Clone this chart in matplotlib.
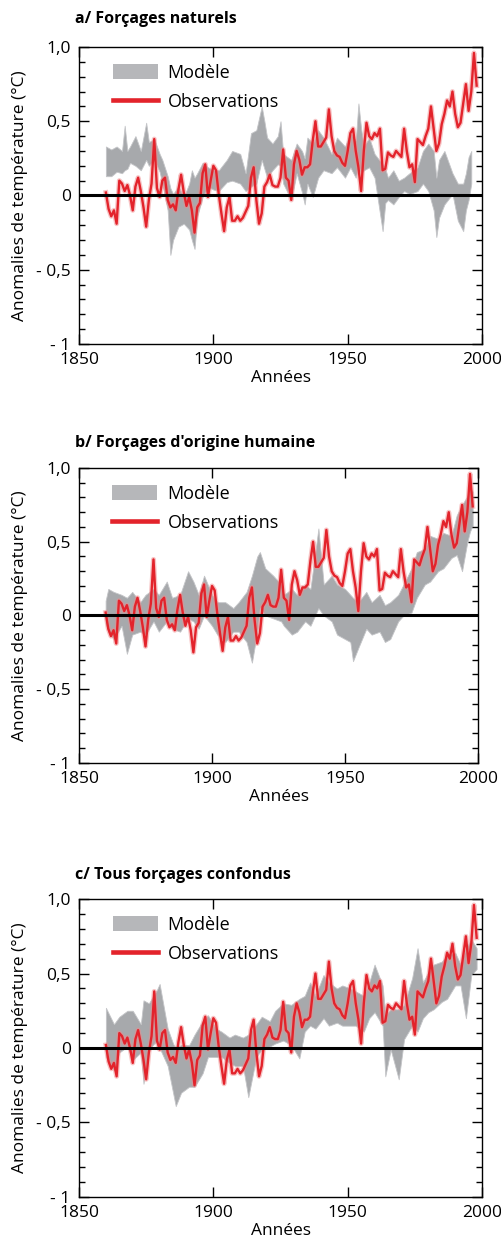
import numpy as np
import matplotlib.pyplot as plt
from matplotlib.patches import Patch
from matplotlib.lines import Line2D
from matplotlib.ticker import MultipleLocator

plt.rcParams['font.family'] = ['Open Sans', 'DejaVu Sans']

# observations (annual anomalies, °C), 1860-1998
obs_years = list(range(1860, 1999))
obs = [0.02, -0.09, -0.14, -0.10, -0.19, 0.10, 0.08, 0.03, 0.07, 0.00,
       -0.10, 0.06, 0.12, 0.03, -0.08, -0.21, -0.03, 0.08, 0.38, 0.05,
       -0.01, 0.10, 0.12, -0.03, -0.08, -0.06, -0.10, 0.04, 0.14, 0.02,
       -0.07, -0.01, -0.10, -0.25, -0.08, -0.05, 0.15, 0.21, -0.01, 0.10,
       0.20, 0.17, 0.01, -0.12, -0.24, -0.08, -0.01, -0.17, -0.17, -0.14,
       -0.17, -0.15, -0.11, -0.07, 0.12, 0.19, -0.03, -0.19, -0.12, 0.06,
       0.09, 0.14, 0.07, 0.06, 0.06, 0.12, 0.31, 0.12, 0.10, -0.03,
       0.21, 0.30, 0.24, 0.14, 0.19, 0.19, 0.21, 0.37, 0.50, 0.33,
       0.33, 0.36, 0.39, 0.58, 0.40, 0.30, 0.27, 0.26, 0.22, 0.20,
       0.30, 0.42, 0.45, 0.30, 0.19, 0.03, 0.30, 0.49, 0.40, 0.38,
       0.42, 0.40, 0.45, 0.17, 0.18, 0.29, 0.27, 0.26, 0.30, 0.28,
       0.26, 0.45, 0.30, 0.19, 0.21, 0.09, 0.38, 0.36, 0.34, 0.40,
       0.45, 0.60, 0.45, 0.30, 0.35, 0.48, 0.55, 0.64, 0.60, 0.70,
       0.55, 0.46, 0.49, 0.62, 0.75, 0.57, 0.70, 0.96, 0.74]

# a/ modele forcages naturels : enveloppe
yrs_a = [1860, 1862, 1864, 1866, 1867, 1868, 1869, 1871, 1873, 1875,
         1876, 1878, 1880, 1881, 1883, 1884, 1885, 1887, 1889, 1891,
         1892, 1893, 1894, 1896, 1898, 1900, 1902, 1905, 1907, 1910,
         1912, 1914, 1916, 1918, 1919, 1920, 1922, 1924, 1925, 1926,
         1929, 1931, 1933, 1934, 1935, 1937, 1939, 1941, 1944, 1946,
         1949, 1951, 1953, 1954, 1955, 1956, 1958, 1960, 1963, 1964,
         1965, 1967, 1969, 1971, 1973, 1976, 1978, 1980, 1982, 1983,
         1984, 1986, 1989, 1991, 1993, 1994, 1995, 1996]
hi_a = [0.33, 0.31, 0.33, 0.30, 0.47, 0.30, 0.33, 0.40, 0.30, 0.49,
        0.36, 0.38, 0.28, 0.24, 0.13, 0.05, 0.01, 0.06, -0.01, 0.08,
        0.17, 0.12, 0.15, 0.22, 0.19, 0.17, 0.17, 0.24, 0.30, 0.28,
        0.15, 0.42, 0.44, 0.60, 0.50, 0.39, 0.35, 0.40, 0.50, 0.28,
        0.24, 0.35, 0.30, 0.25, 0.39, 0.35, 0.44, 0.39, 0.28, 0.39,
        0.33, 0.42, 0.37, 0.62, 0.45, 0.33, 0.39, 0.28, 0.21, 0.18,
        0.12, 0.17, 0.10, 0.12, 0.15, 0.19, 0.30, 0.35, 0.30, 0.12,
        0.24, 0.30, 0.15, 0.08, 0.08, 0.15, 0.26, 0.30]
lo_a = [0.13, 0.13, 0.16, 0.15, 0.17, 0.18, 0.22, 0.20, 0.17, 0.24,
        0.20, 0.24, 0.16, 0.08, -0.10, -0.40, -0.30, -0.21, -0.19, -0.23,
        -0.30, -0.36, -0.14, -0.01, 0.06, 0.04, 0.03, 0.09, 0.10, 0.08,
        0.03, 0.06, 0.08, 0.24, 0.18, 0.12, 0.17, 0.21, 0.20, 0.08,
        -0.03, 0.15, 0.02, -0.06, 0.08, -0.01, 0.12, 0.17, 0.15, 0.19,
        0.12, 0.19, 0.12, 0.20, 0.15, 0.17, 0.19, 0.12, -0.24, -0.05,
        -0.03, -0.06, -0.01, 0.03, 0.01, 0.03, 0.08, 0.03, -0.10, -0.28,
        -0.15, -0.06, 0.01, -0.17, -0.24, -0.10, -0.03, 0.08]

# b/ modele forcages d'origine humaine
yrs_b = [1860, 1861, 1863, 1866, 1868, 1870, 1873, 1875, 1878, 1880,
         1883, 1885, 1888, 1891, 1893, 1895, 1897, 1900, 1902, 1905,
         1908, 1910, 1913, 1915, 1917, 1918, 1920, 1923, 1926, 1927,
         1930, 1932, 1935, 1937, 1940, 1942, 1945, 1947, 1950, 1952,
         1953, 1955, 1958, 1960, 1963, 1965, 1967, 1970, 1972, 1975,
         1977, 1980, 1982, 1985, 1987, 1990, 1992, 1994, 1996, 1997, 1998]
hi_b = [0.10, 0.18, 0.16, 0.14, 0.12, 0.16, 0.09, 0.14, 0.18, 0.14,
        0.23, 0.12, 0.14, 0.30, 0.23, 0.14, 0.27, 0.14, 0.09, 0.09,
        0.05, 0.09, 0.16, 0.27, 0.40, 0.43, 0.32, 0.27, 0.21, 0.14,
        0.18, 0.14, 0.21, 0.18, 0.59, 0.21, 0.27, 0.21, 0.18, 0.14,
        0.12, 0.09, 0.16, 0.09, 0.14, 0.07, 0.09, 0.14, 0.21, 0.32,
        0.43, 0.45, 0.54, 0.52, 0.56, 0.54, 0.68, 0.75, 0.81, 0.86, 0.84]
lo_b = [-0.05, -0.11, -0.16, -0.07, -0.26, -0.13, -0.11, -0.13, -0.04, -0.11,
        -0.04, -0.09, -0.11, -0.02, -0.04, -0.09, 0.00, -0.07, -0.13, -0.18,
        -0.11, -0.11, -0.18, -0.32, -0.11, 0.05, 0.00, -0.02, -0.04, -0.07,
        -0.13, -0.11, -0.04, -0.07, 0.05, 0.00, -0.04, -0.13, -0.16, -0.18,
        -0.31, -0.22, -0.09, -0.13, -0.11, -0.18, -0.16, -0.04, 0.00, 0.02,
        0.12, 0.21, 0.23, 0.30, 0.32, 0.39, 0.41, 0.30, 0.50, 0.57, 0.61]

# c/ modele tous forcages confondus
yrs_c = [1860, 1863, 1865, 1868, 1870, 1873, 1874, 1876, 1879, 1880,
         1883, 1885, 1886, 1888, 1891, 1893, 1896, 1898, 1901, 1903,
         1906, 1908, 1911, 1913, 1916, 1918, 1921, 1923, 1926, 1929,
         1932, 1934, 1936, 1938, 1941, 1943, 1946, 1948, 1951, 1953,
         1956, 1958, 1960, 1963, 1964, 1966, 1969, 1971, 1974, 1976,
         1978, 1980, 1982, 1985, 1987, 1990, 1992, 1994, 1996, 1998]
hi_c = [0.27, 0.16, 0.21, 0.25, 0.25, 0.16, 0.32, 0.30, 0.39, 0.43,
        0.13, 0.03, 0.00, 0.02, 0.02, 0.09, 0.18, 0.22, 0.13, 0.11,
        0.07, 0.09, 0.07, 0.09, 0.16, 0.21, 0.18, 0.25, 0.30, 0.29,
        0.33, 0.35, 0.44, 0.35, 0.49, 0.44, 0.40, 0.42, 0.40, 0.38,
        0.35, 0.44, 0.56, 0.42, 0.22, 0.26, 0.26, 0.29, 0.47, 0.67,
        0.44, 0.51, 0.56, 0.58, 0.62, 0.64, 0.56, 0.67, 0.73, 0.67]
lo_c = [-0.06, -0.15, -0.03, 0.01, -0.08, -0.03, -0.24, -0.01, 0.05, 0.00,
        -0.12, -0.30, -0.39, -0.30, -0.26, -0.26, -0.17, -0.06, -0.06, -0.06,
        -0.10, -0.12, -0.12, -0.33, -0.06, -0.01, 0.01, 0.03, 0.05, 0.02,
        -0.07, 0.11, 0.15, 0.13, 0.20, 0.15, 0.17, 0.15, 0.15, 0.15,
        0.11, 0.20, 0.24, 0.15, -0.19, -0.01, -0.21, 0.06, 0.15, 0.11,
        0.20, 0.24, 0.26, 0.31, 0.33, 0.42, 0.42, 0.20, 0.49, 0.53]

titles = ['a/ Forçages naturels', "b/ Forçages d'origine humaine",
          'c/ Tous forçages confondus']
xticks = [1850, 1900, 1950, 2000]
yticks = [-1, -0.5, 0, 0.5, 1]
ylabels = ['- 1', '- 0,5', '0', '0,5', '1,0']

grey = '#a7a9ac'
red = '#e3232b'

fig = plt.figure(figsize=(5.02, 12.44), dpi=100)

rects = [[0.1574, 0.7235, 0.8028, 0.2387],
         [0.1574, 0.3867, 0.7948, 0.2371],
         [0.1574, 0.0378, 0.8028, 0.2395]]
title_y = [0.9847, 0.6439, 0.2966]
bands = [(yrs_a, lo_a, hi_a), (yrs_b, lo_b, hi_b), (yrs_c, lo_c, hi_c)]

for i in range(3):
    ax = fig.add_axes(rects[i])
    yrs, lo, hi = bands[i]
    ax.fill_between(yrs, lo, hi, color=grey, lw=0.6, edgecolor='#c4c5c8')
    ax.plot(obs_years, obs, color='#f08a8c', lw=3.6, alpha=0.5)
    ax.plot(obs_years, obs, color=red, lw=1.7)
    ax.axhline(0, color='black', lw=2.2)
    ax.set_xlim(1850, 2000)
    ax.set_ylim(-1, 1)
    ax.set_xticks(xticks)
    ax.set_xticklabels([str(t) for t in xticks])
    ax.set_yticks(yticks)
    ax.set_yticklabels(ylabels)
    ax.yaxis.set_minor_locator(MultipleLocator(0.1))
    ax.tick_params(which='both', direction='in', top=True, right=True,
                   width=1, labelsize=12.5, pad=6)
    ax.tick_params(which='major', length=7)
    ax.tick_params(which='minor', length=4.5)
    for s in ax.spines.values():
        s.set_linewidth(1)
    ax.set_xlabel('Années', fontsize=12.5, labelpad=1)
    ax.set_ylabel('Anomalies de température (°C)', fontsize=12.5, labelpad=6)
    handles = [Patch(facecolor='#b6b7ba', edgecolor='none', label='Modèle'),
               Line2D([], [], color=red, lw=3.3, label='Observations')]
    ax.legend(handles=handles, loc='upper left', bbox_to_anchor=(0.07, 0.962),
              frameon=False, fontsize=13, handlelength=2.5, handleheight=0.95,
              handletextpad=0.55, labelspacing=0.62, borderaxespad=0,
              borderpad=0.3)
    fig.text(0.149, title_y[i], titles[i], fontsize=11.5, fontweight='bold',
             ha='left', va='center')

fig.savefig('out.png', dpi=100)
